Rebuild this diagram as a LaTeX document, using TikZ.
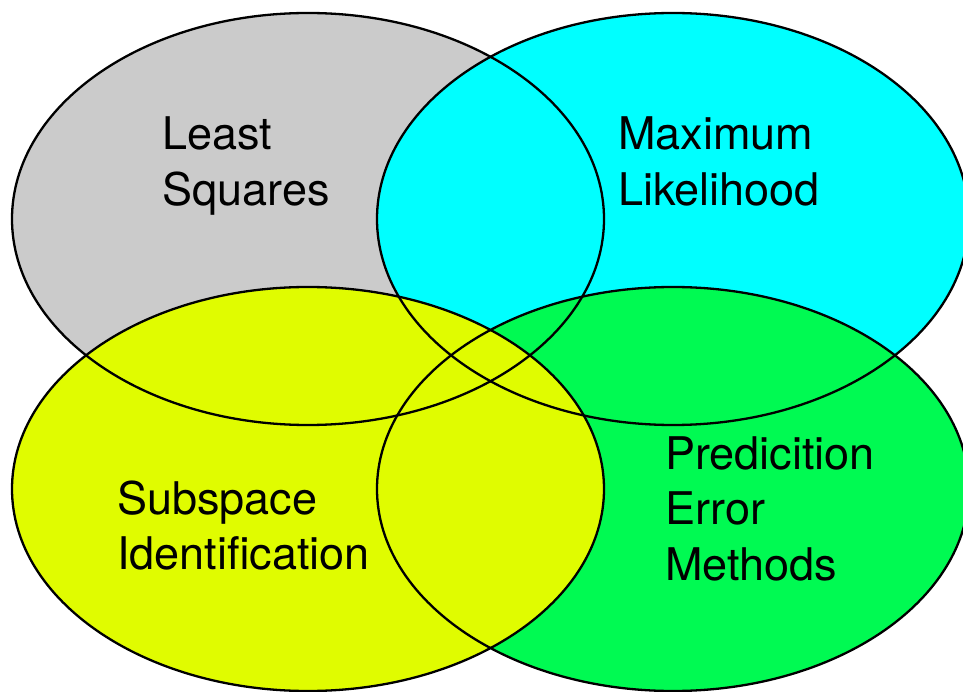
\documentclass[tikz,border=0pt]{standalone}
\usepackage{fontspec}
\setmainfont{TeX Gyre Heros}
\definecolor{lsgray}{RGB}{203,203,203}
\definecolor{mlcyan}{RGB}{0,255,255}
\definecolor{sidyellow}{RGB}{224,252,0}
\definecolor{pegreen}{RGB}{0,250,82}
\tikzset{
  outline/.style={draw=black, line width=2.3pt},
  lbl/.style={anchor=base west, inner sep=0pt, font=\fontsize{45}{55.5}\selectfont}
}
\newcommand{\twoline}[2]{\begin{tabular}[t]{@{}l@{}}#1\\#2\end{tabular}}
\newcommand{\threeline}[3]{\begin{tabular}[t]{@{}l@{}}#1\\#2\\#3\end{tabular}}
\begin{document}
\begin{tikzpicture}[x=1pt,y=-1pt]
\useasboundingbox (0,0) rectangle (963,692);
% fills
\fill[lsgray] (308,219) ellipse [x radius=296, y radius=206];
\fill[mlcyan] (673,219) ellipse [x radius=296, y radius=206];
\fill[pegreen] (673,489) ellipse [x radius=296, y radius=202];
\fill[sidyellow] (308,489) ellipse [x radius=296, y radius=202];
% outlines
\path[outline] (308,219) ellipse [x radius=296, y radius=206];
\path[outline] (673,219) ellipse [x radius=296, y radius=206];
\path[outline] (673,489) ellipse [x radius=296, y radius=202];
\path[outline] (308,489) ellipse [x radius=296, y radius=202];
% labels
\node[lbl] (ls) at (162,150) {\twoline{Least}{Squares}};
\node[lbl] (ml) at (618,150) {\twoline{Maximum}{Likelihood}};
\node[lbl] (sid) at (117,514) {\twoline{Subspace}{Identification}};
\node[lbl] (pem) at (665,469) {\threeline{Predicition}{Error}{Methods}};
\end{tikzpicture}
\end{document}
